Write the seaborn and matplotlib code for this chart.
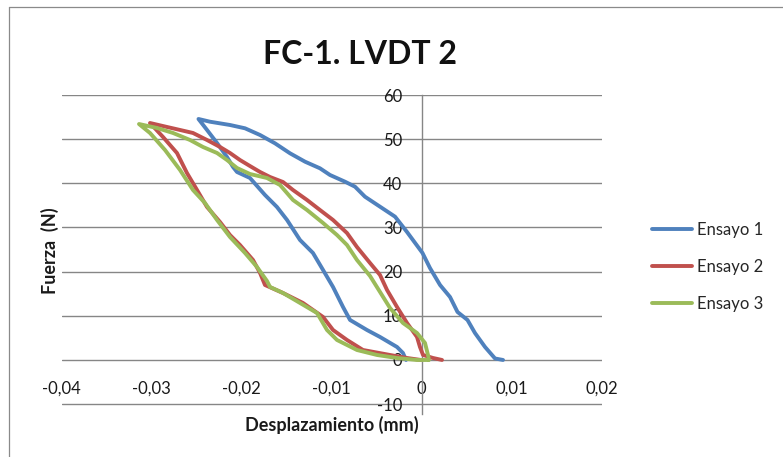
import matplotlib
matplotlib.use("Agg")
import matplotlib.pyplot as plt
from matplotlib.lines import Line2D
import seaborn as sns
import pandas as pd

# Ensayo 1: load branch from the origin to the peak, then the unload branch
ens1_x = [-0.00172, -0.00206, -0.00272, -0.00461, -0.00606, -0.00794, -0.00872, -0.00983,
          -0.01094, -0.01206, -0.01350, -0.01494, -0.01606, -0.01739, -0.01906, -0.02050,
          -0.02094, -0.02161, -0.02272, -0.02383, -0.02478,
          -0.02350, -0.02128, -0.01961, -0.01794, -0.01628, -0.01461, -0.01294, -0.01128,
          -0.01017, -0.00850, -0.00739, -0.00628, -0.00461, -0.00294, -0.00161, 0.00011,
          0.00094, 0.00206, 0.00317, 0.00400, 0.00511, 0.00594, 0.00706, 0.00817, 0.00906]
ens1_y = [0.00, 1.58, 2.94, 5.21, 6.79, 9.06, 12.00, 16.53,
          20.38, 24.23, 27.17, 31.70, 34.64, 37.36, 41.21, 42.57,
          43.70, 45.96, 49.13, 52.08, 54.57,
          53.95, 53.21, 52.46, 50.94, 49.06, 46.80, 44.90, 43.40,
          41.89, 40.37, 39.24, 36.97, 34.71, 32.45, 28.98, 24.23,
          20.83, 16.98, 14.26, 10.87, 9.06, 6.11, 2.94, 0.34, 0.00]

# Ensayo 2
ens2_x = [-0.00006, -0.00161, -0.00350, -0.00650, -0.00828, -0.00983, -0.01094, -0.01317,
          -0.01539, -0.01739, -0.01794, -0.01872, -0.02017, -0.02128, -0.02239, -0.02383,
          -0.02494, -0.02606, -0.02717, -0.02872, -0.03017,
          -0.02828, -0.02683, -0.02539, -0.02383, -0.02239, -0.02128, -0.02017, -0.01906,
          -0.01794, -0.01683, -0.01539, -0.01428, -0.01272, -0.01128, -0.00983, -0.00828,
          -0.00717, -0.00572, -0.00461, -0.00383, -0.00272, -0.00161, -0.00050, -0.00017,
          0.00017, 0.00128, 0.00228]
ens2_y = [0.00, 0.45, 1.13, 2.26, 4.53, 6.79, 9.74, 12.91,
          15.17, 16.98, 19.70, 22.64, 26.04, 28.30, 31.25, 34.64,
          38.49, 42.34, 46.87, 50.49, 53.66,
          52.76, 52.08, 51.40, 49.81, 48.23, 46.87, 45.28, 43.92,
          42.57, 41.43, 40.30, 38.49, 36.23, 33.96, 31.70, 28.75,
          25.58, 21.96, 19.25, 15.85, 12.00, 8.38, 5.21, 2.94,
          1.13, 0.45, 0.00]

# Ensayo 3
ens3_x = [0.00072, -0.00050, -0.00272, -0.00494, -0.00717, -0.00939, -0.01050, -0.01161,
          -0.01350, -0.01539, -0.01683, -0.01717, -0.01828, -0.01961, -0.02128, -0.02272,
          -0.02406, -0.02539, -0.02683, -0.02850, -0.03017, -0.03139,
          -0.02939, -0.02761, -0.02572, -0.02428, -0.02272, -0.02161, -0.02050, -0.01906,
          -0.01717, -0.01572, -0.01428, -0.01272, -0.01094, -0.00939, -0.00828, -0.00717,
          -0.00572, -0.00461, -0.00350, -0.00206, -0.00050, 0.00039, 0.00072, 0.00083]
ens3_y = [0.00, 0.00, 0.45, 1.13, 2.26, 4.53, 6.79, 10.64,
          12.91, 15.17, 16.53, 17.89, 21.06, 24.23, 27.85, 31.70,
          35.55, 38.49, 43.02, 47.55, 51.40, 53.43,
          52.53, 51.40, 49.81, 48.23, 46.87, 45.28, 43.47, 42.11,
          41.21, 39.62, 36.23, 33.96, 31.02, 28.30, 26.04, 22.64,
          19.02, 15.40, 11.77, 8.38, 6.11, 3.85, 1.13, 0.00]

series_names = ["Ensayo 1", "Ensayo 2", "Ensayo 3"]
series_colors = ["#4F81BD", "#C0504D", "#9BBB59"]

x_ticks = [-0.04, -0.03, -0.02, -0.01, 0.0, 0.01, 0.02]
x_tick_labels = ["-0,04", "-0,03", "-0,02", "-0,01", "0", "0,01", "0,02"]
y_ticks = [-10, 0, 10, 20, 30, 40, 50, 60]
y_tick_labels = ["-10", "0", "10", "20", "30", "40", "50", "60"]

frames = []
for name, xs, ys in zip(series_names, [ens1_x, ens2_x, ens3_x], [ens1_y, ens2_y, ens3_y]):
    frames.append(pd.DataFrame({"Desplazamiento": xs, "Fuerza": ys, "Ensayo": name}))
df = pd.concat(frames, ignore_index=True)

sns.set_style("white")
plt.rcParams["font.family"] = ["Lato", "DejaVu Sans"]

W, H = 783, 457
fig = plt.figure(figsize=(W / 100, H / 100), dpi=100)
fig.patch.set_facecolor("white")

# outer chart frame (left and top edges)
frame_col = "#8a8a8a"
fig.add_artist(Line2D([8.5 / W, 8.5 / W], [0, 1 - 7.3 / H], color=frame_col, lw=0.9,
                      transform=fig.transFigure))
fig.add_artist(Line2D([8.5 / W, 1], [1 - 7.3 / H, 1 - 7.3 / H], color=frame_col, lw=0.9,
                      transform=fig.transFigure))

ax_top, ax_bot = 95.0, 414.3
ax = fig.add_axes([61.5 / W, 1 - ax_bot / H, 540 / W, (ax_bot - ax_top) / H])
ax.set_facecolor("none")

# each test is one continuous hysteresis path, drawn in recorded order
sns.lineplot(data=df, x="Desplazamiento", y="Fuerza", hue="Ensayo",
             hue_order=series_names, estimator=None, sort=False,
             palette=dict(zip(series_names, series_colors)),
             linewidth=2.8, legend=False, ax=ax, zorder=3)
for ln in ax.lines:
    ln.set_solid_capstyle("round")
    ln.set_solid_joinstyle("round")

ax.set_xlim(-0.04, 0.02)
ax.set_ylim(-12.3, 60)
ax.set_xticks(x_ticks)
ax.set_xticklabels(x_tick_labels)
ax.set_yticks(y_ticks)
ax.set_yticklabels(y_tick_labels)

grid_col = "#868686"
ax.set_axisbelow(True)
ax.yaxis.grid(True, color=grid_col, lw=1.0)
ax.xaxis.grid(False)
for s in ["top", "right"]:
    ax.spines[s].set_visible(False)
ax.spines["left"].set_position(("data", 0))
ax.spines["left"].set_color(grid_col)
ax.spines["left"].set_linewidth(1.0)
ax.spines["bottom"].set_position(("data", 0))
ax.spines["bottom"].set_color("none")

ax.tick_params(axis="x", length=0, pad=15, labelsize=12, labelcolor="#1a1a1a")
ax.tick_params(axis="y", length=0, pad=14, labelsize=12, labelcolor="#1a1a1a")

ax.set_xlabel("Desplazamiento (mm)", fontsize=13, fontweight="bold", color="#1a1a1a")
ax.set_ylabel("Fuerza  (N)", fontsize=13, fontweight="bold", color="#1a1a1a")
ax.xaxis.set_label_coords(0.5, (ax_bot - 425) / (ax_bot - ax_top))
ax.xaxis.label.set_va("center")
ax.yaxis.set_label_coords((50 - 61.5) / 540, (ax_bot - 251) / (ax_bot - ax_top))
ax.yaxis.label.set_va("center")

fig.text(360 / W, 1 - 54 / H, "FC-1. LVDT 2", ha="center", va="center",
         fontsize=23, fontweight="bold", color="#111111")

handles = [Line2D([], [], color=c, lw=2.8) for c in series_colors]
fig.legend(handles, series_names, loc="center left", bbox_to_anchor=(652 / W, 1 - 267 / H),
           frameon=False, fontsize=12, handlelength=2.4, handletextpad=0.3,
           labelspacing=1.25, borderpad=0, borderaxespad=0)

fig.savefig("out.png", dpi=100)
